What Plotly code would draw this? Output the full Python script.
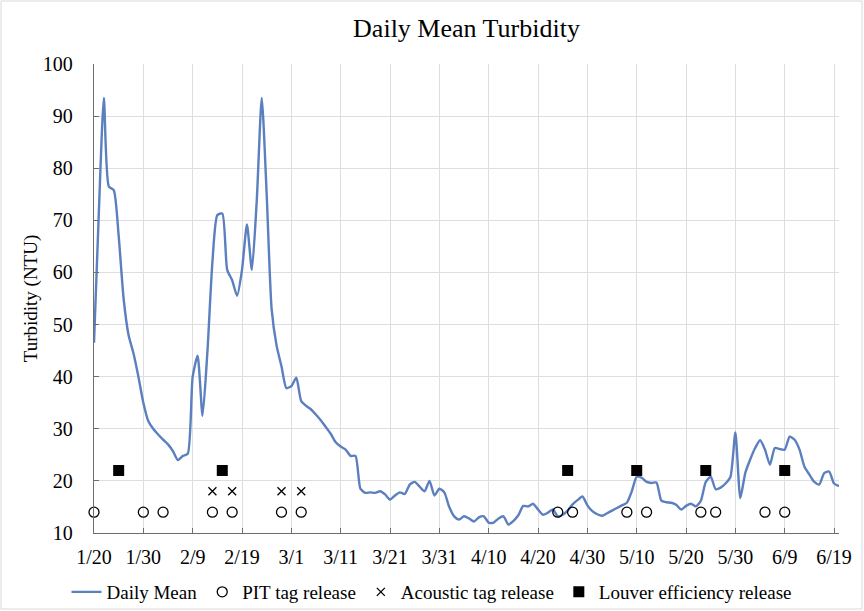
import pandas as pd
import plotly.graph_objects as go

# ---- data ----
start_date = "2019-01-20"
daily_mean = [
    46.5, 72, 93.5, 76.5, 75.8, 67, 55, 48, 44.5, 40,
    35, 31.5, 30, 28.9, 27.9, 27, 25.7, 24, 24.8, 25.2,
    40, 44, 32.5, 45, 62, 71, 71.3, 60.5, 58.5, 55.5,
    60.5, 69.2, 60.5, 74, 93.5, 75, 53, 46, 42, 37.8,
    38.2, 39.8, 35.3, 34.4, 33.7, 32.7, 31.6, 30.3, 29, 27.4,
    26.6, 26, 24.8, 24.8, 18.5, 17.7, 17.8, 17.7, 18, 17.4,
    16.4, 17.2, 17.8, 17.5, 19.3, 19.8, 18.9, 18, 20, 17.2,
    18.5, 17.8, 15, 13.2, 12.6, 13.2, 12.8, 12.2, 13, 13.2,
    12, 12, 12.8, 13.2, 11.6, 12.3, 13.4, 15.2, 15.1, 15.6,
    14.5, 13.5, 13.9, 14.5, 13.2, 13.5, 14.3, 15.5, 16.3, 17,
    15.3, 14.2, 13.6, 13.3, 13.8, 14.3, 14.8, 15.3, 15.8, 18,
    20.8, 20.6, 19.8, 19.6, 19.7, 16.2, 15.9, 15.8, 15.4, 14.5,
    15.2, 15.6, 15.1, 16.2, 19.8, 20.8, 18.4, 18.7, 19.5, 20.8,
    29.3, 16.7, 21.5, 24.1, 26.3, 27.8, 26, 23.1, 26.3, 26.1,
    26, 28.5, 27.9, 26, 22.7, 21.2, 19.8, 19.3, 21.5, 21.8,
    19.5, 19.0,
]
dates = pd.date_range(start_date, periods=len(daily_mean), freq="D")

pit_dates = ["2019-01-20", "2019-01-30", "2019-02-03", "2019-02-13", "2019-02-17",
             "2019-02-27", "2019-03-03", "2019-04-24", "2019-04-27", "2019-05-08",
             "2019-05-12", "2019-05-23", "2019-05-26", "2019-06-05", "2019-06-09"]
pit_values = [14] * len(pit_dates)

acoustic_dates = ["2019-02-13", "2019-02-17", "2019-02-27", "2019-03-03"]
acoustic_values = [18] * len(acoustic_dates)

louver_dates = ["2019-01-25", "2019-02-15", "2019-04-26", "2019-05-10", "2019-05-24", "2019-06-09"]
louver_values = [22] * len(louver_dates)

tick_dates = ["2019-01-20", "2019-01-30", "2019-02-09", "2019-02-19", "2019-03-01",
              "2019-03-11", "2019-03-21", "2019-03-31", "2019-04-10", "2019-04-20",
              "2019-04-30", "2019-05-10", "2019-05-20", "2019-05-30", "2019-06-09",
              "2019-06-19"]
tick_labels = ["1/20", "1/30", "2/9", "2/19", "3/1", "3/11", "3/21", "3/31", "4/10",
               "4/20", "4/30", "5/10", "5/20", "5/30", "6/9", "6/19"]

# ---- figure ----
FONT = "Liberation Serif, Times New Roman, serif"
fig = go.Figure()
fig.add_trace(go.Scatter(
    x=dates, y=daily_mean, mode="lines", name="Daily Mean",
    line=dict(color="#5b7fbf", width=2.4, shape="spline", smoothing=0.6),
))
fig.add_trace(go.Scatter(
    x=pit_dates, y=pit_values, mode="markers", name="PIT tag release",
    marker=dict(symbol="circle-open", size=10, color="black", line=dict(width=1.3)),
    cliponaxis=False,
))
fig.add_trace(go.Scatter(
    x=acoustic_dates, y=acoustic_values, mode="markers", name="Acoustic tag release",
    marker=dict(symbol="x-thin-open", size=8, color="black", line=dict(width=1.3)),
    cliponaxis=False,
))
fig.add_trace(go.Scatter(
    x=louver_dates, y=louver_values, mode="markers", name="Louver efficiency release",
    marker=dict(symbol="square", size=11, color="black"),
    cliponaxis=False,
))

W, H = 864, 611
ml, mr, mt, mb = 94, 25, 64, 78
pw, ph = W - ml - mr, H - mt - mb

fig.update_layout(
    width=W, height=H,
    margin=dict(l=ml, r=mr, t=mt, b=mb, autoexpand=False),
    paper_bgcolor="white", plot_bgcolor="white",
    font=dict(family=FONT, size=20, color="black"),
    title=dict(text="Daily Mean Turbidity", x=(ml + pw / 2) / W, xanchor="center",
               y=1 - 28 / H, yanchor="middle", font=dict(size=26)),
    showlegend=True,
    legend=dict(orientation="h", x=0.5, xanchor="center", xref="container",
                y=1 - 592 / H, yanchor="middle", yref="container",
                bgcolor="rgba(0,0,0,0)",
                font=dict(size=19), itemwidth=30, tracegroupgap=0,
                entrywidthmode="pixels", entrywidth=0),
    xaxis=dict(
        type="date", range=["2019-01-20", "2019-06-20"],
        tickvals=tick_dates, ticktext=tick_labels,
        showgrid=True, gridcolor="#dedede", gridwidth=1,
        showline=True, linecolor="#6e6e6e", linewidth=1.3,
        ticks="inside", ticklen=5, tickcolor="#6e6e6e",
        tickfont=dict(size=20), ticklabelstandoff=6, zeroline=False,
    ),
    yaxis=dict(
        range=[10, 100], dtick=10, tick0=10,
        title=dict(text="Turbidity (NTU)", font=dict(size=19), standoff=0),
        showgrid=True, gridcolor="#dedede", gridwidth=1,
        showline=True, linecolor="#6e6e6e", linewidth=1.3,
        ticks="inside", ticklen=5, tickcolor="#6e6e6e",
        tickfont=dict(size=20), ticklabelstandoff=16, zeroline=False,
    ),
    shapes=[dict(type="rect", xref="paper", yref="paper",
                 x0=-(ml - 1) / pw, x1=1 + (mr - 2) / pw,
                 y0=-(mb - 2) / ph, y1=1 + (mt - 1) / ph,
                 line=dict(color="#d9d9d9", width=1), layer="below")],
)

fig.write_html("out.html")
